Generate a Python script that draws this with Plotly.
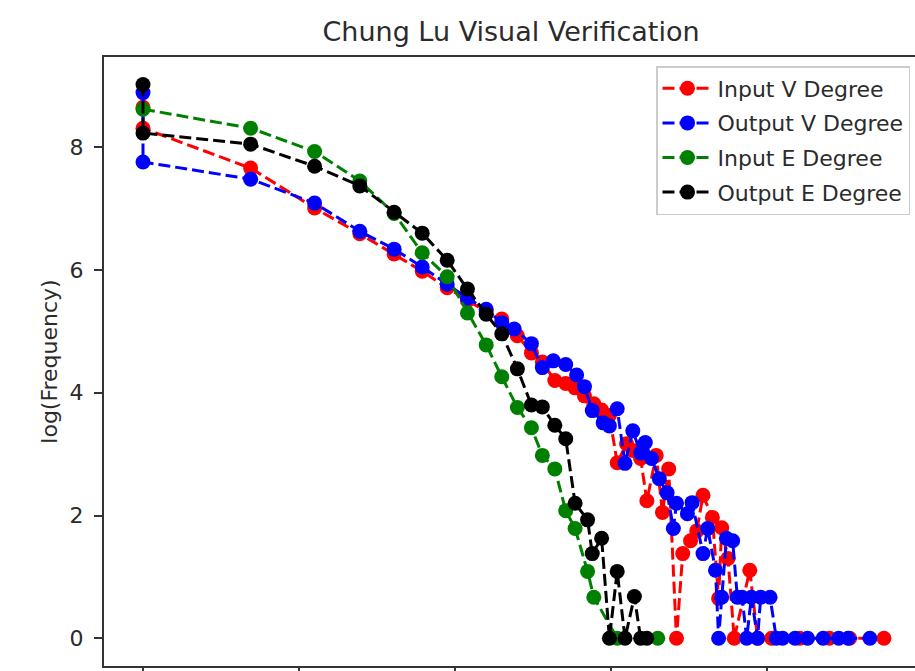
import plotly.graph_objects as go

# x = log(Degree), y = log(Frequency)
red_x = [0, 0, 0.69, 1.10, 1.39, 1.61, 1.79, 1.95, 2.08, 2.20, 2.30, 2.40, 2.49, 2.56, 2.64, 2.71, 2.77, 2.83,
         2.89, 2.94, 2.99, 3.04, 3.10, 3.14, 3.19, 3.23, 3.29, 3.33, 3.37, 3.42, 3.46, 3.51, 3.55, 3.59, 3.65,
         3.69, 3.71, 3.75, 3.79, 3.89, 3.94, 4.03, 4.21, 4.40, 4.53, 4.75]
red_y = [8.65, 8.31, 7.66, 7.01, 6.59, 6.26, 5.98, 5.71, 5.50, 5.32, 5.20, 4.93, 4.65, 4.50, 4.20, 4.15, 4.08, 3.95,
         3.82, 3.72, 3.63, 2.86, 3.17, 3.06, 2.93, 2.24, 2.98, 2.05, 2.76, 0, 1.38, 1.59, 1.75, 2.33, 1.97,
         0.65, 1.80, 1.30, 0, 1.11, 0, 0, 0, 0, 0, 0]

blue_x = [0, 0, 0.69, 1.10, 1.39, 1.61, 1.79, 1.95, 2.08, 2.20, 2.30, 2.38, 2.49, 2.56, 2.63, 2.71, 2.78, 2.83,
          2.88, 2.95, 2.99, 3.04, 3.09, 3.14, 3.19, 3.22, 3.26, 3.31, 3.36, 3.40, 3.42, 3.49, 3.52, 3.59, 3.62,
          3.67, 3.69, 3.71, 3.74, 3.78, 3.81, 3.84, 3.87, 3.90, 3.94, 3.96, 4.02, 4.06, 4.10, 4.18, 4.26, 4.36,
          4.46, 4.52, 4.66]
blue_y = [8.89, 7.76, 7.48, 7.09, 6.63, 6.34, 6.05, 5.77, 5.54, 5.36, 5.14, 5.04, 4.80, 4.41, 4.52, 4.46, 4.29, 4.10,
          3.71, 3.51, 3.46, 3.74, 2.85, 3.38, 3.02, 3.19, 2.93, 2.60, 2.37, 1.79, 2.20, 2.03, 2.21, 1.38, 1.79,
          1.11, 0, 0.67, 1.63, 1.59, 0.67, 0.67, 0, 0.67, 0, 0.67, 0.67, 0, 0, 0, 0, 0,
          0, 0, 0]

green_x = [0, 0.69, 1.10, 1.39, 1.61, 1.79, 1.95, 2.08, 2.20, 2.30, 2.40, 2.49, 2.56, 2.64, 2.71, 2.77, 2.85,
           2.89, 3.04, 3.30]
green_y = [8.62, 8.31, 7.93, 7.45, 6.92, 6.28, 5.89, 5.30, 4.78, 4.26, 3.76, 3.43, 2.98, 2.76, 2.08, 1.79, 1.09,
           0.67, 0, 0]

black_x = [0, 0, 0.69, 1.10, 1.39, 1.61, 1.79, 1.95, 2.08, 2.20, 2.30, 2.40, 2.49, 2.56, 2.64, 2.71, 2.77, 2.85,
           2.88, 2.94, 2.99, 3.04, 3.09, 3.15, 3.19, 3.23]
black_y = [9.02, 8.23, 8.05, 7.69, 7.37, 6.94, 6.60, 6.16, 5.69, 5.28, 4.96, 4.39, 3.80, 3.77, 3.47, 3.25, 2.20, 1.93,
           1.38, 1.63, 0, 1.09, 0, 0.68, 0, 0]

series_names = ["Input V Degree", "Output V Degree", "Input E Degree", "Output E Degree"]
series_colors = ["#ff0000", "#0000ff", "#008000", "#000000"]
x_ticks = [0, 1, 2, 3, 4]
y_ticks = [0, 2, 4, 6, 8]

FONT = "DejaVu Sans"
TXT = "#2b2b2b"

fig = go.Figure()
for name, color, xs, ys in zip(series_names, series_colors,
                               [red_x, blue_x, green_x, black_x],
                               [red_y, blue_y, green_y, black_y]):
    fig.add_trace(go.Scatter(
        x=xs, y=ys, name=name, mode="lines+markers", legendgroup=name,
        line=dict(color=color, width=3, dash="12px,5px"),
        marker=dict(color=color, size=15, line=dict(width=0)),
    ))

W, H = 915, 671
L, T, B = 104, 57, 5

fig.update_layout(
    template="none",
    width=W, height=H,
    margin=dict(l=L, r=0, t=T, b=B, pad=0),
    paper_bgcolor="white", plot_bgcolor="white",
    font=dict(family=FONT, size=22, color=TXT),
    title=dict(text="Chung Lu Visual Verification", x=511 / W, xref="container",
               xanchor="center", y=1 - 32 / H, yanchor="middle",
               font=dict(family=FONT, size=27, color=TXT)),
    showlegend=True,
    legend=dict(x=1 - 5 / (W - L), xanchor="right", y=1 - 9 / (H - T - B), yanchor="top",
                bgcolor="rgba(255,255,255,0.85)", bordercolor="#cccccc", borderwidth=1.5,
                font=dict(family=FONT, size=22, color=TXT), tracegroupgap=3,
                itemwidth=50),
    xaxis=dict(range=[-0.25, 4.949], tickvals=x_ticks, showticklabels=False, ticks="outside",
               ticklen=8, tickwidth=1.8, tickcolor="#333", showline=True, linecolor="#333",
               linewidth=2, mirror=True, showgrid=False, zeroline=False, automargin=False),
    yaxis=dict(range=[-0.451, 9.47], tickvals=y_ticks, ticks="outside", ticklen=8, tickwidth=1.8,
               tickcolor="#333", showline=True, linecolor="#333", linewidth=2, mirror=False,
               showgrid=False, zeroline=False, automargin=False, ticklabelstandoff=6,
               tickfont=dict(family=FONT, size=22, color=TXT),
               title=dict(text="log(Frequency)", standoff=6, font=dict(family=FONT, size=22, color=TXT))),
)

fig.write_html("out.html")
